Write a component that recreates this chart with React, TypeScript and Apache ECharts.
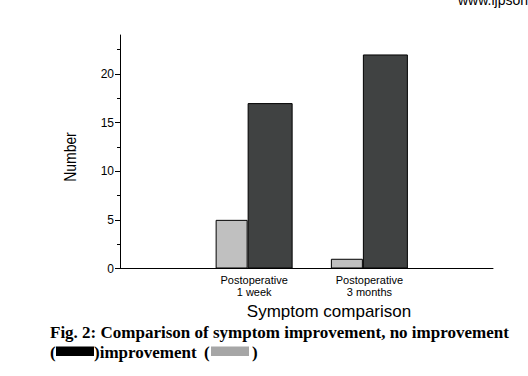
import React, { useEffect, useRef } from "react";
import * as echarts from "echarts";

const categories = ["Postoperative\n1 week", "Postoperative\n3 months"];
const improvement = [5, 1];
const noImprovement = [17, 22];
const majorTicks = [0, 5, 10, 15, 20];
const minorTicks = [2.5, 7.5, 12.5, 17.5, 22.5];
const yMax = 24;

export default function App() {
  const ref = useRef<HTMLDivElement>(null);
  useEffect(() => {
    if (!ref.current) return;
    const chart = echarts.init(ref.current, null, { renderer: "svg" });
    const sans = "Liberation Sans, Arial, sans-serif";
    const serif = "Liberation Serif, Times New Roman, serif";
    const gridTop = 35;
    const gridBottom = 107.5;
    chart.setOption({
      animation: false,
      backgroundColor: "#ffffff",
      grid: [
        { left: 120, right: 35, top: gridTop, bottom: gridBottom },
        { left: 196.5, right: 101, top: gridTop, bottom: gridBottom },
      ],
      xAxis: [
        {
          type: "value",
          gridIndex: 0,
          min: 0,
          max: 1,
          axisLine: { show: true, onZero: false, lineStyle: { color: "#000", width: 1 } },
          axisTick: { show: false },
          axisLabel: { show: false },
          splitLine: { show: false },
        },
        {
          type: "category",
          gridIndex: 1,
          data: categories,
          axisLine: { show: false },
          axisTick: { show: false },
          axisLabel: {
            color: "#000",
            fontFamily: sans,
            fontSize: 11,
            lineHeight: 12,
            margin: 5,
          },
        },
      ],
      yAxis: [
        {
          type: "value",
          gridIndex: 0,
          position: "left",
          min: 0,
          max: yMax,
          axisLine: { show: true, lineStyle: { color: "#000", width: 1 } },
          axisTick: { show: true, length: 5, customValues: majorTicks, lineStyle: { color: "#000" } },
          axisLabel: {
            customValues: majorTicks,
            color: "#000",
            fontFamily: sans,
            fontSize: 12,
            margin: 6,
          },
          splitLine: { show: false },
        },
        {
          type: "value",
          gridIndex: 0,
          position: "left",
          offset: 0,
          min: 0,
          max: yMax,
          axisLine: { show: false },
          axisTick: { show: true, length: 3, customValues: minorTicks, lineStyle: { color: "#000" } },
          axisLabel: { show: false },
          splitLine: { show: false },
        },
        {
          type: "value",
          gridIndex: 1,
          min: 0,
          max: yMax,
          show: false,
        },
      ],
      series: [
        {
          name: "Improvement",
          type: "bar",
          xAxisIndex: 1,
          yAxisIndex: 2,
          data: improvement,
          barWidth: 32,
          barGap: "0%",
          itemStyle: { color: "#c0c0c0", borderColor: "#000", borderWidth: 1 },
        },
        {
          name: "No improvement",
          type: "bar",
          xAxisIndex: 1,
          yAxisIndex: 2,
          data: noImprovement,
          barWidth: 45,
          barGap: "0%",
          itemStyle: { color: "#404242", borderColor: "#000", borderWidth: 1 },
        },
      ],
      graphic: [
        {
          type: "text",
          x: 458,
          y: -7,
          style: { text: "www.ijpsonline.com", font: `14px ${sans}`, fill: "#000" },
        },
        {
          type: "text",
          x: 70,
          y: 157,
          rotation: Math.PI / 2,
          scaleX: 0.82,
          style: {
            text: "Number",
            font: `17px ${sans}`,
            fill: "#000",
            align: "center",
            verticalAlign: "middle",
          },
        },
        {
          type: "text",
          x: 329,
          y: 311,
          style: {
            text: "Symptom comparison",
            font: `17px ${sans}`,
            fill: "#000",
            align: "center",
            verticalAlign: "middle",
          },
        },
        {
          type: "text",
          x: 50,
          y: 332,
          style: {
            text: "Fig. 2: Comparison of symptom improvement, no improvement",
            font: `bold 17px ${serif}`,
            fill: "#000",
            verticalAlign: "middle",
          },
        },
        {
          type: "text",
          x: 50,
          y: 352,
          style: { text: "(", font: `bold 17px ${serif}`, fill: "#000", verticalAlign: "middle" },
        },
        {
          type: "rect",
          shape: { x: 56, y: 346.5, width: 38, height: 9.5 },
          style: { fill: "#000" },
        },
        {
          type: "text",
          x: 94,
          y: 352,
          style: { text: ")improvement", font: `bold 17px ${serif}`, fill: "#000", verticalAlign: "middle" },
        },
        {
          type: "text",
          x: 204,
          y: 352,
          style: { text: "(", font: `bold 17px ${serif}`, fill: "#000", verticalAlign: "middle" },
        },
        {
          type: "rect",
          shape: { x: 211, y: 346.5, width: 38, height: 9.5 },
          style: { fill: "#a6a6a6" },
        },
        {
          type: "text",
          x: 252,
          y: 352,
          style: { text: ")", font: `bold 17px ${serif}`, fill: "#000", verticalAlign: "middle" },
        },
      ],
    });
    return () => chart.dispose();
  }, []);
  return (
    <div
      ref={ref}
      style={{ position: "fixed", left: 0, top: 0, width: 528, height: 376 }}
    />
  );
}
